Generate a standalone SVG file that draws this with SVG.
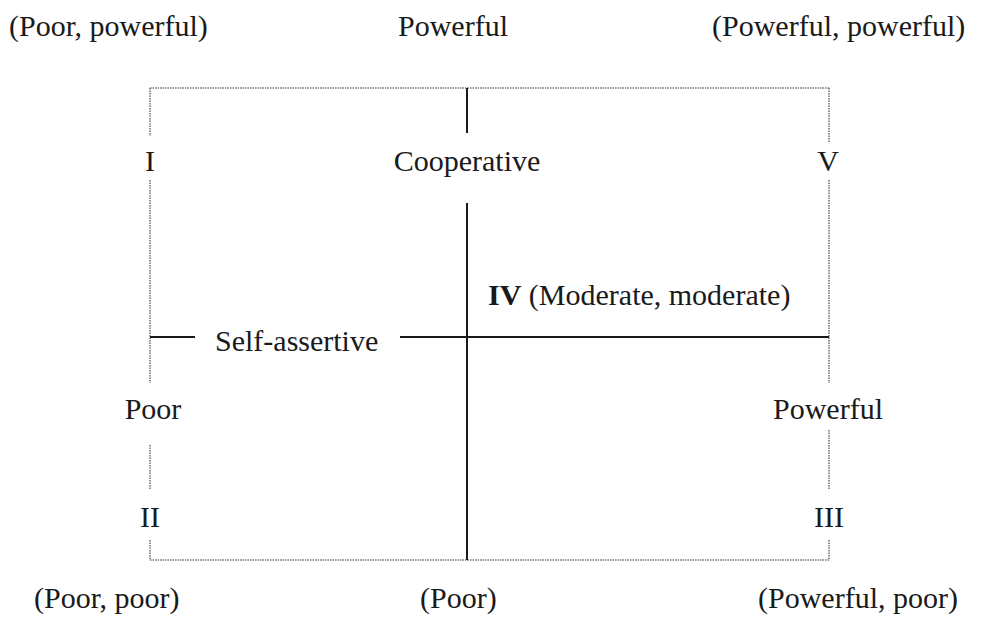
<svg xmlns="http://www.w3.org/2000/svg" width="985" height="626" viewBox="0 0 985 626">
<style>
text{font-family:"Liberation Serif","Times New Roman",serif;font-size:30px;fill:#1a1a1a}
.dot{stroke:#777777;stroke-width:1.6;stroke-dasharray:1.5 1;fill:none}
.solid{stroke:#1a1a1a;stroke-width:2;fill:none}
.b{font-weight:bold}
</style>
<rect width="985" height="626" fill="#ffffff"/>
<g id="connectors">
<path class="dot" d="M150,88 H829"/>
<path class="dot" d="M150,560 H829"/>
<path class="dot" d="M150,88 V136 M150,180 V383 M150,445 V490 M150,540 V560"/>
<path class="dot" d="M829,88 V142 M829,180 V383 M829,430 V490 M829,540 V560"/>
<path class="solid" d="M467,88 V133 M467,203 V560"/>
<path class="solid" d="M150,337 H195 M400,337 H829"/>
</g>
<g id="corner-tl"><text x="9" y="36">(Poor, powerful)</text></g>
<g id="top-powerful"><text x="398" y="36">Powerful</text></g>
<g id="corner-tr"><text x="712" y="36">(Powerful, powerful)</text></g>
<g id="quad-I"><text x="150" y="171" text-anchor="middle">I</text></g>
<g id="cooperative"><text x="467" y="171" text-anchor="middle">Cooperative</text></g>
<g id="quad-V"><text x="828" y="171" text-anchor="middle">V</text></g>
<g id="quad-IV"><text x="488" y="305"><tspan class="b">IV</tspan> (Moderate, moderate)</text></g>
<g id="self-assertive"><text x="215" y="351">Self-assertive</text></g>
<g id="left-poor"><text x="153" y="419" text-anchor="middle">Poor</text></g>
<g id="right-powerful"><text x="828" y="419" text-anchor="middle">Powerful</text></g>
<g id="quad-II"><text x="150" y="527" text-anchor="middle">II</text></g>
<g id="quad-III"><text x="829" y="527" text-anchor="middle">III</text></g>
<g id="corner-bl"><text x="34" y="608">(Poor, poor)</text></g>
<g id="bottom-poor"><text x="420" y="608">(Poor)</text></g>
<g id="corner-br"><text x="758" y="608">(Powerful, poor)</text></g>
</svg>
